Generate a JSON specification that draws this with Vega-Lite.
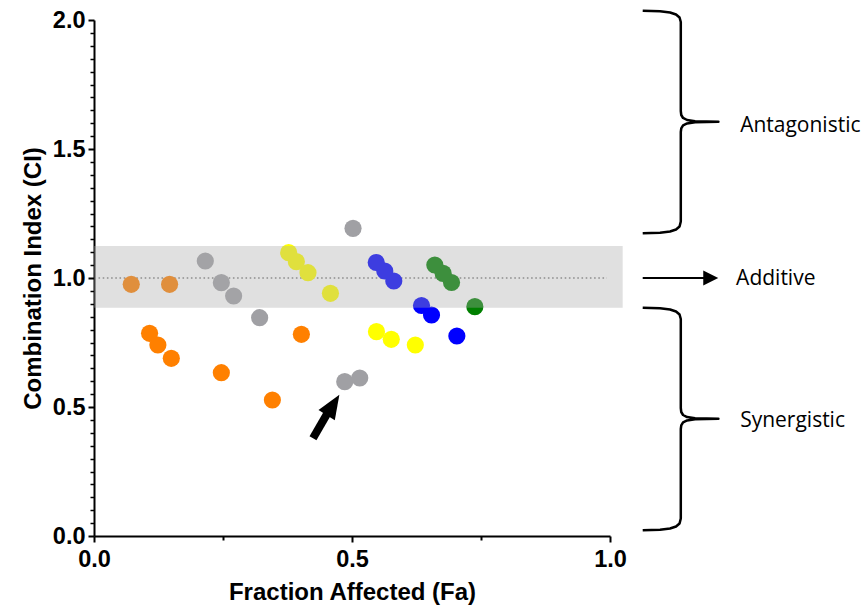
{
  "$schema": "https://vega.github.io/schema/vega-lite/v6.json",
  "autosize": {"type": "none"},
  "padding": {"left": 94, "top": 20, "right": 255, "bottom": 73},
  "width": 516,
  "height": 516,
  "background": "white",
  "config": {"view": {"stroke": null}},
  "datasets": {
    "pts": [
      {"fa": 0.1077, "ci": 0.7857, "group": "orange"},
      {"fa": 0.1238, "ci": 0.7403, "group": "orange"},
      {"fa": 0.1498, "ci": 0.6888, "group": "orange"},
      {"fa": 0.2468, "ci": 0.6329, "group": "orange"},
      {"fa": 0.3457, "ci": 0.5271, "group": "orange"},
      {"fa": 0.4019, "ci": 0.7818, "group": "orange"},
      {"fa": 0.0722, "ci": 0.9756, "group": "orange"},
      {"fa": 0.1465, "ci": 0.9756, "group": "orange"},
      {"fa": 0.2157, "ci": 1.0659, "group": "grey"},
      {"fa": 0.2468, "ci": 0.9818, "group": "grey"},
      {"fa": 0.2706, "ci": 0.9302, "group": "grey"},
      {"fa": 0.3210, "ci": 0.8461, "group": "grey"},
      {"fa": 0.4859, "ci": 0.5981, "group": "grey"},
      {"fa": 0.5150, "ci": 0.6124, "group": "grey"},
      {"fa": 0.5020, "ci": 1.1926, "group": "grey"},
      {"fa": 0.3773, "ci": 1.0981, "group": "yellow"},
      {"fa": 0.3922, "ci": 1.0632, "group": "yellow"},
      {"fa": 0.4147, "ci": 1.0205, "group": "yellow"},
      {"fa": 0.4582, "ci": 0.9407, "group": "yellow"},
      {"fa": 0.5474, "ci": 0.7919, "group": "yellow"},
      {"fa": 0.5761, "ci": 0.7624, "group": "yellow"},
      {"fa": 0.6227, "ci": 0.7403, "group": "yellow"},
      {"fa": 0.5470, "ci": 1.0601, "group": "blue"},
      {"fa": 0.5635, "ci": 1.0271, "group": "blue"},
      {"fa": 0.5810, "ci": 0.9884, "group": "blue"},
      {"fa": 0.6347, "ci": 0.8934, "group": "blue"},
      {"fa": 0.6541, "ci": 0.8566, "group": "blue"},
      {"fa": 0.7032, "ci": 0.7752, "group": "blue"},
      {"fa": 0.6605, "ci": 1.0504, "group": "green"},
      {"fa": 0.6766, "ci": 1.0182, "group": "green"},
      {"fa": 0.6929, "ci": 0.9826, "group": "green"},
      {"fa": 0.7381, "ci": 0.8888, "group": "green"}
    ],
    "braces": [
      {"bx": 1.0634, "by": 2.0360, "ord": 1, "brace": "top"},
      {"bx": 1.0970, "by": 2.0337, "ord": 2, "brace": "top"},
      {"bx": 1.1164, "by": 2.0291, "ord": 3, "brace": "top"},
      {"bx": 1.1280, "by": 2.0213, "ord": 4, "brace": "top"},
      {"bx": 1.1348, "by": 2.0097, "ord": 5, "brace": "top"},
      {"bx": 1.1372, "by": 1.9922, "ord": 6, "brace": "top"},
      {"bx": 1.1372, "by": 1.6473, "ord": 7, "brace": "top"},
      {"bx": 1.1381, "by": 1.6318, "ord": 8, "brace": "top"},
      {"bx": 1.1416, "by": 1.6202, "ord": 9, "brace": "top"},
      {"bx": 1.1494, "by": 1.6124, "ord": 10, "brace": "top"},
      {"bx": 1.1649, "by": 1.6078, "ord": 11, "brace": "top"},
      {"bx": 1.2101, "by": 1.6058, "ord": 12, "brace": "top"},
      {"bx": 1.1649, "by": 1.6039, "ord": 13, "brace": "top"},
      {"bx": 1.1494, "by": 1.5992, "ord": 14, "brace": "top"},
      {"bx": 1.1416, "by": 1.5915, "ord": 15, "brace": "top"},
      {"bx": 1.1381, "by": 1.5798, "ord": 16, "brace": "top"},
      {"bx": 1.1372, "by": 1.5659, "ord": 17, "brace": "top"},
      {"bx": 1.1372, "by": 1.2190, "ord": 18, "brace": "top"},
      {"bx": 1.1348, "by": 1.1996, "ord": 19, "brace": "top"},
      {"bx": 1.1280, "by": 1.1880, "ord": 20, "brace": "top"},
      {"bx": 1.1164, "by": 1.1802, "ord": 21, "brace": "top"},
      {"bx": 1.0970, "by": 1.1756, "ord": 22, "brace": "top"},
      {"bx": 1.0634, "by": 1.1733, "ord": 23, "brace": "top"},
      {"bx": 1.0634, "by": 0.8848, "ord": 1, "brace": "bottom"},
      {"bx": 1.0970, "by": 0.8825, "ord": 2, "brace": "bottom"},
      {"bx": 1.1164, "by": 0.8779, "ord": 3, "brace": "bottom"},
      {"bx": 1.1280, "by": 0.8701, "ord": 4, "brace": "bottom"},
      {"bx": 1.1348, "by": 0.8585, "ord": 5, "brace": "bottom"},
      {"bx": 1.1372, "by": 0.8410, "ord": 6, "brace": "bottom"},
      {"bx": 1.1372, "by": 0.4961, "ord": 7, "brace": "bottom"},
      {"bx": 1.1381, "by": 0.4806, "ord": 8, "brace": "bottom"},
      {"bx": 1.1416, "by": 0.4690, "ord": 9, "brace": "bottom"},
      {"bx": 1.1494, "by": 0.4612, "ord": 10, "brace": "bottom"},
      {"bx": 1.1649, "by": 0.4566, "ord": 11, "brace": "bottom"},
      {"bx": 1.2101, "by": 0.4546, "ord": 12, "brace": "bottom"},
      {"bx": 1.1649, "by": 0.4527, "ord": 13, "brace": "bottom"},
      {"bx": 1.1494, "by": 0.4480, "ord": 14, "brace": "bottom"},
      {"bx": 1.1416, "by": 0.4403, "ord": 15, "brace": "bottom"},
      {"bx": 1.1381, "by": 0.4286, "ord": 16, "brace": "bottom"},
      {"bx": 1.1372, "by": 0.4147, "ord": 17, "brace": "bottom"},
      {"bx": 1.1372, "by": 0.0678, "ord": 18, "brace": "bottom"},
      {"bx": 1.1348, "by": 0.0484, "ord": 19, "brace": "bottom"},
      {"bx": 1.1280, "by": 0.0368, "ord": 20, "brace": "bottom"},
      {"bx": 1.1164, "by": 0.0290, "ord": 21, "brace": "bottom"},
      {"bx": 1.0970, "by": 0.0244, "ord": 22, "brace": "bottom"},
      {"bx": 1.0634, "by": 0.0221, "ord": 23, "brace": "bottom"}
    ]
  },
  "layer": [
    {
      "data": {"values": [{"x1": 0.0087, "x2": 0.994, "y": 1.0}]},
      "mark": {"type": "rule", "color": "#808080", "strokeWidth": 1.6, "strokeDash": [1.6, 2.6]},
      "encoding": {
        "x": {"field": "x1", "type": "quantitative",
          "scale": {"domain": [0, 1], "nice": false, "zero": false},
          "axis": {"orient": "bottom", "values": [0.25, 0.75], "labels": false, "domain": false, "grid": false, "title": null,
            "tickSize": 4, "tickWidth": 2, "tickColor": "black"}},
        "x2": {"field": "x2"},
        "y": {"field": "y", "type": "quantitative",
          "scale": {"domain": [0, 2], "nice": false, "zero": false},
          "axis": {"orient": "left", "values": [0.05, 0.1, 0.15, 0.2, 0.25, 0.3, 0.35, 0.4, 0.45, 0.55, 0.6, 0.65, 0.7, 0.75, 0.8, 0.85, 0.9, 0.95, 1.05, 1.1, 1.15, 1.2, 1.25, 1.3, 1.35, 1.4, 1.45, 1.55, 1.6, 1.65, 1.7, 1.75, 1.8, 1.85, 1.9, 1.95],
            "labels": false, "domain": false, "grid": false, "title": null,
            "tickSize": 4, "tickWidth": 1.5, "tickColor": "black"}}
      }
    },
    {
      "data": {"name": "pts"},
      "mark": {"type": "circle", "size": 295, "opacity": 1},
      "encoding": {
        "x": {"field": "fa", "type": "quantitative",
          "scale": {"domain": [0, 1], "nice": false, "zero": false},
          "axis": {"orient": "bottom", "values": [0, 0.5, 1], "format": ".1f", "title": "Fraction Affected (Fa)", "grid": false,
            "domainColor": "black", "domainWidth": 2, "tickColor": "black", "tickWidth": 2, "tickSize": 6,
            "labelFont": "Liberation Sans", "labelFontWeight": "bold", "labelFontSize": 23.5, "labelColor": "black", "labelPadding": 5,
            "labelFlush": false, "labelOverlap": false, "labelBound": false,
            "titleFont": "Liberation Sans", "titleFontWeight": "bold", "titleFontSize": 24, "titleColor": "black", "titlePadding": 10}},
        "y": {"field": "ci", "type": "quantitative",
          "scale": {"domain": [0, 2], "nice": false, "zero": false},
          "axis": {"orient": "left", "values": [0, 0.5, 1, 1.5, 2], "format": ".1f", "title": "Combination Index (CI)", "grid": false,
            "domainColor": "black", "domainWidth": 2, "tickColor": "black", "tickWidth": 2, "tickSize": 6,
            "labelFont": "Liberation Sans", "labelFontWeight": "bold", "labelFontSize": 23.5, "labelColor": "black", "labelPadding": 3,
            "labelFlush": false, "labelOverlap": false, "labelBound": false,
            "titleFont": "Liberation Sans", "titleFontWeight": "bold", "titleFontSize": 24, "titleColor": "black", "titlePadding": 7}},
        "color": {"field": "group", "type": "nominal", "legend": null,
          "scale": {"domain": ["orange", "grey", "yellow", "blue", "green"], "range": ["#FF8000", "#A0A0A4", "#FFFF00", "#0000FF", "#008000"]}}
      }
    },
    {
      "data": {"values": [{"bx1": 0, "bx2": 1.0246, "by1": 0.885, "by2": 1.124}]},
      "mark": {"type": "rect", "color": "#AAAAAA", "opacity": 0.36},
      "encoding": {
        "x": {"field": "bx1", "type": "quantitative", "axis": null},
        "x2": {"field": "bx2"},
        "y": {"field": "by1", "type": "quantitative", "axis": null},
        "y2": {"field": "by2"}
      }
    },
    {
      "data": {"name": "braces"},
      "mark": {"type": "line", "color": "black", "strokeWidth": 2.5, "strokeJoin": "round"},
      "encoding": {
        "x": {"field": "bx", "type": "quantitative", "axis": null},
        "y": {"field": "by", "type": "quantitative", "axis": null},
        "detail": {"field": "brace"},
        "order": {"field": "ord", "type": "quantitative"}
      }
    },
    {
      "data": {"values": [{"ax1": 1.0634, "ax2": 1.19, "ay": 1.0}]},
      "mark": {"type": "rule", "color": "black", "strokeWidth": 2},
      "encoding": {
        "x": {"field": "ax1", "type": "quantitative", "axis": null},
        "x2": {"field": "ax2"},
        "y": {"field": "ay", "type": "quantitative", "axis": null}
      }
    },
    {
      "data": {"values": [{"hx": 1.1953, "hy": 1.0}]},
      "mark": {"type": "point", "shape": "M -1 -1 L 1 0 L -1 1 Z", "size": 225, "filled": true, "color": "black", "opacity": 1},
      "encoding": {
        "x": {"field": "hx", "type": "quantitative", "axis": null},
        "y": {"field": "hy", "type": "quantitative", "axis": null}
      }
    },
    {
      "data": {"values": [{"tx1": 0.4244, "ty1": 0.3787, "tx2": 0.4549, "ty2": 0.4845}]},
      "mark": {"type": "rule", "color": "black", "strokeWidth": 8, "strokeCap": "butt"},
      "encoding": {
        "x": {"field": "tx1", "type": "quantitative", "axis": null},
        "y": {"field": "ty1", "type": "quantitative", "axis": null},
        "x2": {"field": "tx2"},
        "y2": {"field": "ty2"}
      }
    },
    {
      "data": {"values": [{"px": 0.4632, "py": 0.5078}]},
      "mark": {"type": "point", "shape": "M 0 -1 L 0.8 1 L -0.8 1 Z", "size": 576, "angle": 32, "filled": true, "color": "black", "opacity": 1},
      "encoding": {
        "x": {"field": "px", "type": "quantitative", "axis": null},
        "y": {"field": "py", "type": "quantitative", "axis": null}
      }
    },
    {
      "data": {"values": [
        {"lx": 1.2522, "ly": 1.564, "label": "Antagonistic"},
        {"lx": 1.2444, "ly": 0.973, "label": "Additive"},
        {"lx": 1.2522, "ly": 0.422, "label": "Synergistic"}
      ]},
      "mark": {"type": "text", "font": "Open Sans", "fontSize": 21, "align": "left", "baseline": "alphabetic", "color": "black"},
      "encoding": {
        "x": {"field": "lx", "type": "quantitative", "axis": null},
        "y": {"field": "ly", "type": "quantitative", "axis": null},
        "text": {"field": "label"}
      }
    }
  ],
  "resolve": {"axis": {"x": "independent", "y": "independent"}}
}
